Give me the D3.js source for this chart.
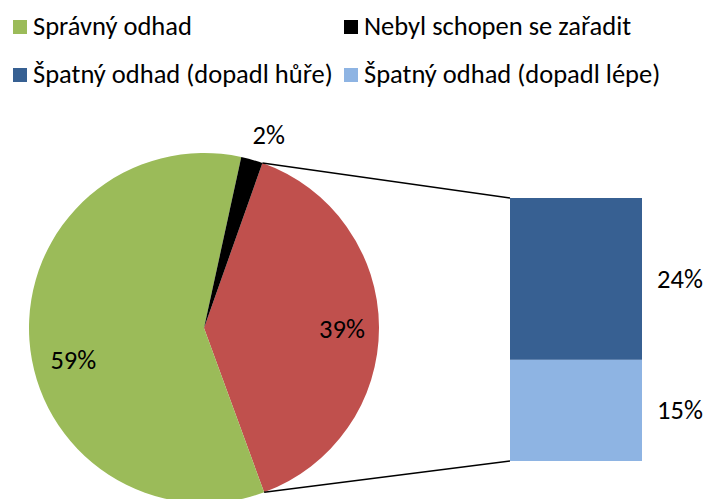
<!DOCTYPE html>
<html>
<head>
<meta charset="utf-8">
<script src="https://cdn.jsdelivr.net/npm/d3@7"></script>
<style>
  body { margin: 0; background: #fff; }
  text { font-family: Carlito, Calibri, Lato, sans-serif; fill: #000; }
</style>
</head>
<body>
<script>
// DATA

var pieLabels = ["Špatný odhad", "Správný odhad", "Nebyl schopen se zařadit"];
var pieValues = [39, 59, 2];
var pieColors = ["#C0504D", "#9BBB59", "#000000"];

var barLabels = ["Špatný odhad (dopadl hůře)", "Špatný odhad (dopadl lépe)"];
var barValues = [24, 15];
var barColors = ["#376092", "#8EB4E3"];

var legendLabels = ["Správný odhad", "Nebyl schopen se zařadit", "Špatný odhad (dopadl hůře)", "Špatný odhad (dopadl lépe)"];
var legendColors = ["#9BBB59", "#000000", "#376092", "#8EB4E3"];

// CHART STRUCTURE

var svgWidth = 706;
var svgHeight = 499;
var fontSize = 26.5;

var svg = d3.select("body")
  .append("svg")
  .attr("width", svgWidth)
  .attr("height", svgHeight);

var cx = 204, cy = 328, radius = 175;
var startDeg = 19.5;

// PIE

var pie = d3.pie()
  .sort(null)
  .startAngle(startDeg * Math.PI / 180)
  .endAngle((startDeg + 360) * Math.PI / 180);

var arcs = pie(pieValues);

var arc = d3.arc().innerRadius(0).outerRadius(radius);

var pieGroup = svg.append("g").attr("transform", `translate(${cx}, ${cy})`);

pieGroup.selectAll("path")
  .data(arcs)
  .enter()
  .append("path")
  .attr("d", arc)
  .attr("fill", (d, i) => pieColors[i]);

// PIE LABELS (centroid + small nudge, like excel)

var labelRadius = [138, 135, 200];
var labelNudge = [[0, 11], [4, 32], [10, 8]];

pieGroup.selectAll("text.pielabel")
  .data(arcs)
  .enter()
  .append("text")
  .attr("class", "pielabel")
  .attr("x", (d, i) => d3.arc().innerRadius(labelRadius[i]).outerRadius(labelRadius[i]).centroid(d)[0] + labelNudge[i][0])
  .attr("y", (d, i) => d3.arc().innerRadius(labelRadius[i]).outerRadius(labelRadius[i]).centroid(d)[1] + labelNudge[i][1])
  .attr("text-anchor", "middle")
  .attr("font-size", fontSize)
  .text(d => d.value + "%");

// BAR (SECOND PLOT)

var barX = 510, barW = 132, barTop = 198, barBottom = 461;

var yScale = d3.scaleLinear()
  .domain([0, d3.sum(barValues)])
  .range([barTop, barBottom]);

var stacks = [];
var acc = 0;
barValues.forEach(function(v) {
  stacks.push({y0: acc, y1: acc + v, value: v});
  acc += v;
});

svg.selectAll("rect.bar")
  .data(stacks)
  .enter()
  .append("rect")
  .attr("class", "bar")
  .attr("x", barX)
  .attr("width", barW)
  .attr("y", d => yScale(d.y0))
  .attr("height", d => yScale(d.y1) - yScale(d.y0))
  .attr("fill", (d, i) => barColors[i]);

svg.selectAll("text.barlabel")
  .data(stacks)
  .enter()
  .append("text")
  .attr("class", "barlabel")
  .attr("x", 680)
  .attr("y", d => (yScale(d.y0) + yScale(d.y1)) / 2 + 9)
  .attr("text-anchor", "middle")
  .attr("font-size", fontSize)
  .text(d => d.value + "%");

// CONNECTOR LINES

function polar(r, ang) {
  return [Math.sin(ang) * r, -Math.cos(ang) * r];
}

var redArc = arcs[0];
var p1 = polar(radius, redArc.startAngle);
var p2 = polar(radius, redArc.endAngle);

svg.append("line")
  .attr("x1", cx + p1[0]).attr("y1", cy + p1[1])
  .attr("x2", barX).attr("y2", barTop)
  .attr("stroke", "#000").attr("stroke-width", 1.5);

svg.append("line")
  .attr("x1", cx + p2[0]).attr("y1", cy + p2[1])
  .attr("x2", barX).attr("y2", barBottom)
  .attr("stroke", "#000").attr("stroke-width", 1.5);

// LEGEND

var legendPos = [[13, 20], [344, 20], [13, 68], [344, 68]];

var legend = svg.selectAll("g.legend")
  .data(legendLabels)
  .enter()
  .append("g")
  .attr("class", "legend")
  .attr("transform", (d, i) => `translate(${legendPos[i][0]}, ${legendPos[i][1]})`);

legend.append("rect")
  .attr("x", 0)
  .attr("y", 0)
  .attr("width", 14)
  .attr("height", 14)
  .attr("fill", (d, i) => legendColors[i]);

legend.append("text")
  .attr("x", 20)
  .attr("y", 15)
  .attr("font-size", fontSize)
  .text(d => d);
</script>
</body>
</html>
